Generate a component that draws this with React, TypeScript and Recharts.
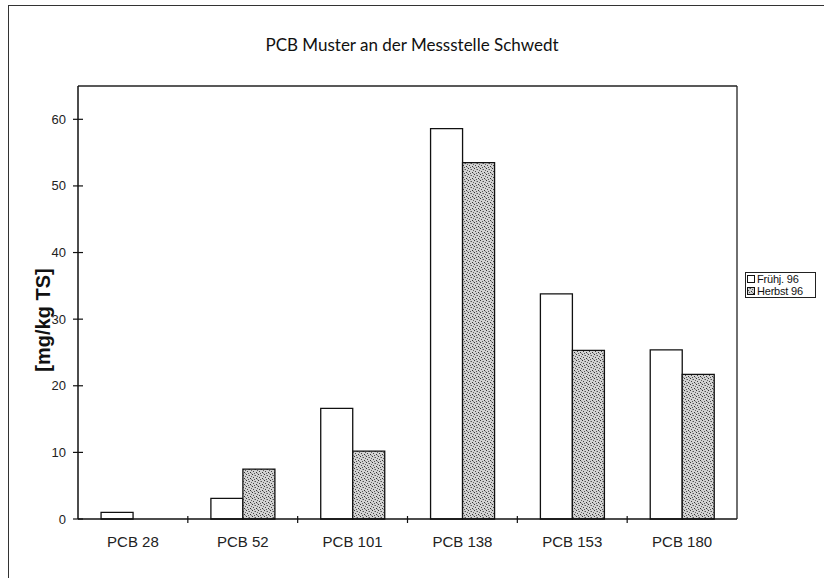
import React from 'react';
import { BarChart, Bar, XAxis, YAxis, Label } from 'recharts';

const categories = ['PCB 28', 'PCB 52', 'PCB 101', 'PCB 138', 'PCB 153', 'PCB 180'];
const fruehj96 = [1.0, 3.1, 16.6, 58.6, 33.8, 25.4];
const herbst96 = [0, 7.5, 10.2, 53.5, 25.3, 21.7];
const seriesNames = ['Frühj. 96', 'Herbst 96'];
const yTicks = [0, 10, 20, 30, 40, 50, 60];

const data = categories.map((name, i) => ({
  name,
  fruehj: fruehj96[i],
  herbst: herbst96[i]
}));

const W = 824;
const H = 578;
const margin = { top: 85, right: 86, left: 0, bottom: 19 };
const Y_AXIS_W = 78;
const X_AXIS_H = 40;
const bandSize = (W - margin.left - Y_AXIS_W - margin.right - 1) / categories.length;

const font = '"Liberation Sans", Arial, sans-serif';

// y ticks cross the axis line
function YTick(props: any) {
  const { x, y, payload } = props;
  return (
    <g>
      <line x1={x - 5} x2={x + 5} y1={y} y2={y} stroke="#111" strokeWidth={1.2} />
      <text x={x - 12} y={y} dy={4.5} textAnchor="end" fontFamily={font} fontSize={13} fill="#222">
        {payload.value}
      </text>
    </g>
  );
}

// labels centred under bars, tick marks on category boundaries
function XTick(props: any) {
  const { x, y, payload, index } = props;
  const left = x - bandSize / 2;
  return (
    <g>
      {index > 0 && (
        <line x1={left} x2={left} y1={y - 3} y2={y + 4} stroke="#111" strokeWidth={1.2} />
      )}
      <text x={x} y={y + 28} textAnchor="middle" fontFamily={font} fontSize={15} fill="#222">
        {payload.value}
      </text>
    </g>
  );
}

function Stipple({ id }: { id: string }) {
  return (
    <pattern id={id} width="6" height="6" patternUnits="userSpaceOnUse">
      <rect width="6" height="6" fill="#d2d2d2" />
      <rect x="0" y="0" width="1" height="1" fill="#333" />
      <rect x="3" y="1" width="1" height="1" fill="#555" />
      <rect x="1" y="3" width="1" height="1" fill="#444" />
      <rect x="4" y="4" width="1" height="1" fill="#333" />
      <rect x="5" y="2" width="1" height="1" fill="#666" />
      <rect x="2" y="5" width="1" height="1" fill="#555" />
      <rect x="2" y="1" width="1" height="1" fill="#999" />
      <rect x="5" y="5" width="1" height="1" fill="#888" />
    </pattern>
  );
}

export default function App() {
  return (
    <div
      style={{
        position: 'absolute',
        left: 0,
        top: 0,
        width: W,
        height: H,
        background: '#fff',
        overflow: 'hidden'
      }}
    >
      {/* figure frame (top and left edge only visible) */}
      <div
        style={{
          position: 'absolute',
          left: 8,
          top: 5,
          right: -4,
          bottom: -4,
          borderTop: '1.5px solid #333',
          borderLeft: '1.5px solid #333'
        }}
      />
      <div
        style={{
          position: 'absolute',
          left: 0,
          width: W,
          top: 34,
          textAlign: 'center',
          fontFamily: 'Lato, "Open Sans", sans-serif',
          fontSize: 17,
          color: '#111'
        }}
      >
        PCB Muster an der Messstelle Schwedt
      </div>

      <div style={{ position: 'absolute', left: 0, top: 0 }}>
        <BarChart
          width={W}
          height={H}
          data={data}
          margin={margin}
          barCategoryGap="21%"
          barGap={0}
        >
          <defs>
            <Stipple id="stipple" />
          </defs>
          <XAxis
            dataKey="name"
            height={X_AXIS_H}
            axisLine={{ stroke: '#111', strokeWidth: 1.5 }}
            tickLine={false}
            tickSize={0}
            tickMargin={0}
            tick={<XTick />}
            interval={0}
          />
          <XAxis
            xAxisId="top"
            dataKey="name"
            orientation="top"
            height={1}
            axisLine={{ stroke: '#222', strokeWidth: 1.3 }}
            tick={false}
            tickLine={false}
          />
          <YAxis
            width={Y_AXIS_W}
            domain={[0, 65]}
            ticks={yTicks}
            axisLine={{ stroke: '#111', strokeWidth: 1.5 }}
            tickLine={false}
            tickSize={0}
            tickMargin={0}
            tick={<YTick />}
          >
            <Label
              content={() => (
                <text
                  x={50}
                  y={320}
                  transform="rotate(-90 50 320)"
                  textAnchor="middle"
                  fontFamily={font}
                  fontSize={20}
                  fontWeight="bold"
                  fill="#111"
                >
                  [mg/kg TS]
                </text>
              )}
            />
          </YAxis>
          <YAxis
            yAxisId="right"
            orientation="right"
            width={1}
            domain={[0, 65]}
            axisLine={{ stroke: '#222', strokeWidth: 1.3 }}
            tick={false}
            tickLine={false}
          />
          <Bar
            dataKey="fruehj"
            name={seriesNames[0]}
            fill="#fff"
            stroke="#111"
            strokeWidth={1.3}
            isAnimationActive={false}
          />
          <Bar
            dataKey="herbst"
            name={seriesNames[1]}
            fill="url(#stipple)"
            stroke="#111"
            strokeWidth={1.3}
            isAnimationActive={false}
          />
        </BarChart>
      </div>

      {/* legend */}
      <div
        style={{
          position: 'absolute',
          left: 745,
          top: 272,
          width: 68,
          border: '1.3px solid #222',
          background: '#fff',
          fontFamily: font,
          fontSize: 11,
          letterSpacing: -0.2,
          lineHeight: '12px',
          padding: '0 0 0 1px',
          color: '#111'
        }}
      >
        {seriesNames.map((s, i) => (
          <div key={s} style={{ display: 'flex', alignItems: 'center', height: 12 }}>
            <svg width={9} height={9} style={{ marginRight: 1 }}>
              <defs>
                <Stipple id={`lg${i}`} />
              </defs>
              <rect
                x={0.5}
                y={0.5}
                width={7}
                height={7}
                fill={i === 0 ? '#fff' : `url(#lg${i})`}
                stroke="#111"
                strokeWidth={1}
              />
            </svg>
            <span>{s}</span>
          </div>
        ))}
      </div>
    </div>
  );
}
